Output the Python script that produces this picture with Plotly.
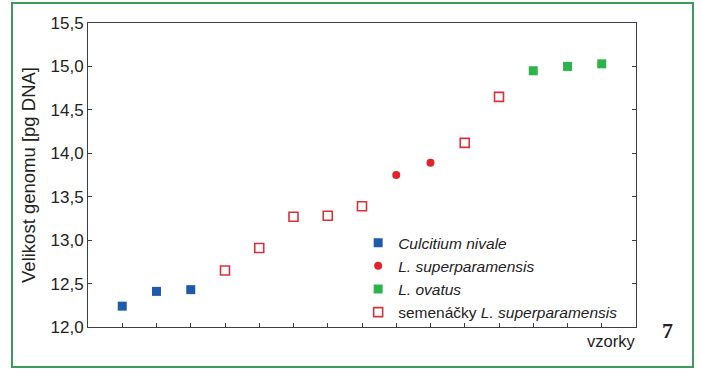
import plotly.graph_objects as go

x_culcitium = [1, 2, 3]
y_culcitium = [12.24, 12.41, 12.43]
x_superpar = [9, 10]
y_superpar = [13.75, 13.89]
x_ovatus = [13, 14, 15]
y_ovatus = [14.95, 15.00, 15.03]
x_seedlings = [4, 5, 6, 7, 8, 11, 12]
y_seedlings = [12.65, 12.91, 13.27, 13.28, 13.39, 14.12, 14.65]
x_ticks = list(range(1, 16))
y_ticks = [12.0, 12.5, 13.0, 13.5, 14.0, 14.5, 15.0, 15.5]

fig = go.Figure()
fig.add_trace(go.Scatter(x=x_culcitium, y=y_culcitium, mode="markers",
                         name="<i>Culcitium nivale</i>",
                         marker=dict(symbol="square", size=9, color="#1f5bab")))
fig.add_trace(go.Scatter(x=x_superpar, y=y_superpar, mode="markers",
                         name="<i>L. superparamensis</i>",
                         marker=dict(symbol="circle", size=8, color="#e3232b")))
fig.add_trace(go.Scatter(x=x_ovatus, y=y_ovatus, mode="markers",
                         name="<i>L. ovatus</i>",
                         marker=dict(symbol="square", size=9, color="#2db34a")))
fig.add_trace(go.Scatter(x=x_seedlings, y=y_seedlings, mode="markers",
                         name="semenáčky <i>L. superparamensis</i>",
                         marker=dict(symbol="square-open", size=9, color="#d9303c",
                                     line=dict(width=1.6, color="#d9303c"))))

axis_col = "#3a4048"
fig.update_layout(
    width=701, height=369,
    margin=dict(l=88, r=65, t=23, b=42),
    paper_bgcolor="white", plot_bgcolor="white",
    separators=", ",
    font=dict(family="Liberation Sans, Arial, sans-serif", size=17, color="#222"),
    showlegend=True,
    legend=dict(x=0.493, y=0.332, xanchor="left", yanchor="top",
                bgcolor="rgba(0,0,0,0)", font=dict(size=15.5, color="#222"),
                tracegroupgap=0, itemwidth=30),
    xaxis=dict(range=[0, 16], tickvals=x_ticks, showticklabels=False,
               ticks="inside", ticklen=4, tickcolor=axis_col,
               showline=True, linecolor=axis_col, linewidth=1, mirror=True,
               showgrid=False, zeroline=False),
    yaxis=dict(range=[12.0, 15.5], tickvals=y_ticks, tickformat=".1f",
               ticks="inside", ticklen=4, tickcolor=axis_col,
               showline=True, linecolor=axis_col, linewidth=1, mirror="ticks",
               showgrid=False, zeroline=False, tickfont=dict(size=17),
               title=dict(text="Velikost genomu [pg DNA]", standoff=10,
                          font=dict(size=18.5))),
)

fig.add_shape(type="rect", xref="paper", yref="paper",
              x0=-0.1387, x1=1.104, y0=-0.1316, y1=1.0658,
              line=dict(color="#3f9a5e", width=2), fillcolor="rgba(0,0,0,0)")
fig.add_annotation(text="vzorky", xref="paper", yref="paper", x=1.002, y=-0.01,
                   xanchor="right", yanchor="top", showarrow=False,
                   font=dict(size=16.5, color="#222"))
fig.add_annotation(text="<b>7</b>", xref="paper", yref="paper", x=1.0566, y=0.035,
                   xanchor="center", yanchor="top", showarrow=False,
                   font=dict(size=22, color="#222", family="Liberation Serif, Times New Roman, serif"))

fig.write_html("out.html", config={"displayModeBar": False},
               post_script="document.body.style.margin='0';document.body.style.overflow='hidden';")
